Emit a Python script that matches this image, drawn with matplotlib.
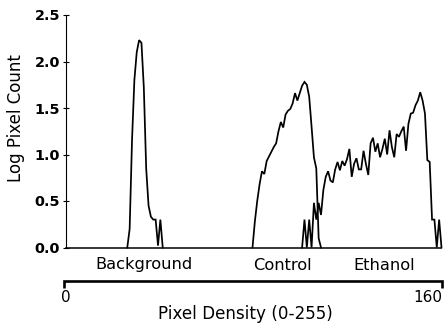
import numpy as np
import matplotlib
matplotlib.use("Agg")
import matplotlib.pyplot as plt
from matplotlib import transforms

# ---- data ----
background_start = 27
background_y = [0, 0.2, 1.15, 1.8, 2.1, 2.23, 2.2, 1.72, 0.85, 0.45, 0.33, 0.3,
                0.3, 0.02, 0.3, 0]

control_start = 80
control_y = [0, 0.28, 0.5, 0.68, 0.82, 0.79, 0.93, 0.98, 1.03, 1.08, 1.12, 1.25,
             1.35, 1.29, 1.43, 1.47, 1.49, 1.55, 1.66, 1.58, 1.66, 1.74, 1.78,
             1.75, 1.62, 1.3, 0.97, 0.85, 0.1, 0]

ethanol_start = 101
ethanol_y = [0, 0.3, 0, 0.3, 0.0, 0.48, 0.3, 0.48, 0.35, 0.62, 0.76, 0.82, 0.72,
             0.7, 0.84, 0.92, 0.83, 0.93, 0.88, 0.95, 1.06, 0.76, 0.9, 0.96, 0.84,
             0.84, 1.04, 0.9, 0.78, 1.12, 1.18, 1.03, 1.12, 0.97, 1.06, 1.17, 1.0,
             1.26, 1.08, 0.97, 1.22, 1.19, 1.25, 1.3, 1.04, 1.33, 1.44, 1.45, 1.53,
             1.58, 1.67, 1.58, 1.44, 0.94, 0.92, 0.3, 0.3, 0.0, 0.3, 0.0]

categories = ["Background", "Control", "Ethanol"]
category_pos = [34.0, 92.7, 135.7]
yticks = [0.0, 0.5, 1.0, 1.5, 2.0, 2.5]
xtick_labels = ["0", "160"]
xlabel = "Pixel Density (0-255)"
ylabel = "Log Pixel Count"

# ---- layout ----
W, H = 444, 324
plt.rcParams['font.family'] = ['DejaVu Sans']
fig = plt.figure(figsize=(W / 100, H / 100), dpi=100)

def fx(px):
    return px / W

def fy(py):
    return 1 - py / H

x0_px, scale = 63.5, 2.3625  # px for data 0, px per unit
ax_left, ax_right, ax_bottom, ax_top = 65.7, 441.0, 247.5, 15.0
ax = fig.add_axes([fx(ax_left), fy(ax_bottom), fx(ax_right - ax_left),
                   (ax_bottom - ax_top) / H])
ax.set_xlim((ax_left - x0_px) / scale, (ax_right - x0_px) / scale)
ax.set_ylim(0, 2.5)

lw = 1.25
for start, ys in [(background_start, background_y), (control_start, control_y),
                  (ethanol_start, ethanol_y)]:
    xs = np.arange(len(ys)) + start
    ax.plot(xs, ys, color="black", lw=lw, solid_joinstyle="miter", clip_on=False)

for s in ["top", "right"]:
    ax.spines[s].set_visible(False)
ax.spines["left"].set_linewidth(0.8)
ax.spines["bottom"].set_linewidth(1.1)
ax.set_xticks([])
ax.set_yticks(yticks)
ax.set_yticklabels([f"{v:.1f}" for v in yticks], fontweight="bold", fontsize=10.4)
ax.tick_params(axis="y", direction="inout", length=5, width=0.8, pad=1.5)

fig.text(fx(16), fy(118), ylabel, rotation=90, ha="center", va="center", fontsize=12)

# category labels
bt = transforms.blended_transform_factory(ax.transData, fig.transFigure)
for name, pos in zip(categories, category_pos):
    ax.text(pos, fy(269.5), name, transform=bt, ha="center", va="baseline",
            fontsize=11.7, clip_on=False)

# bracket axis
by, bt_end = fy(281), fy(288)
ax.plot([0, 0, 160, 160], [bt_end, by, by, bt_end], transform=bt, color="black",
        lw=1.9, clip_on=False, solid_joinstyle="miter", solid_capstyle="butt")
ax.text(0.9, fy(302.5), xtick_labels[0], transform=bt, ha="center", va="baseline",
        fontsize=11)
ax.text(160.3, fy(302.5), xtick_labels[1], transform=bt, ha="right", va="baseline",
        fontsize=11)
fig.text(fx(245), fy(319), xlabel, ha="center", va="baseline", fontsize=12.1)

fig.savefig("out.png", dpi=100, facecolor="white")
